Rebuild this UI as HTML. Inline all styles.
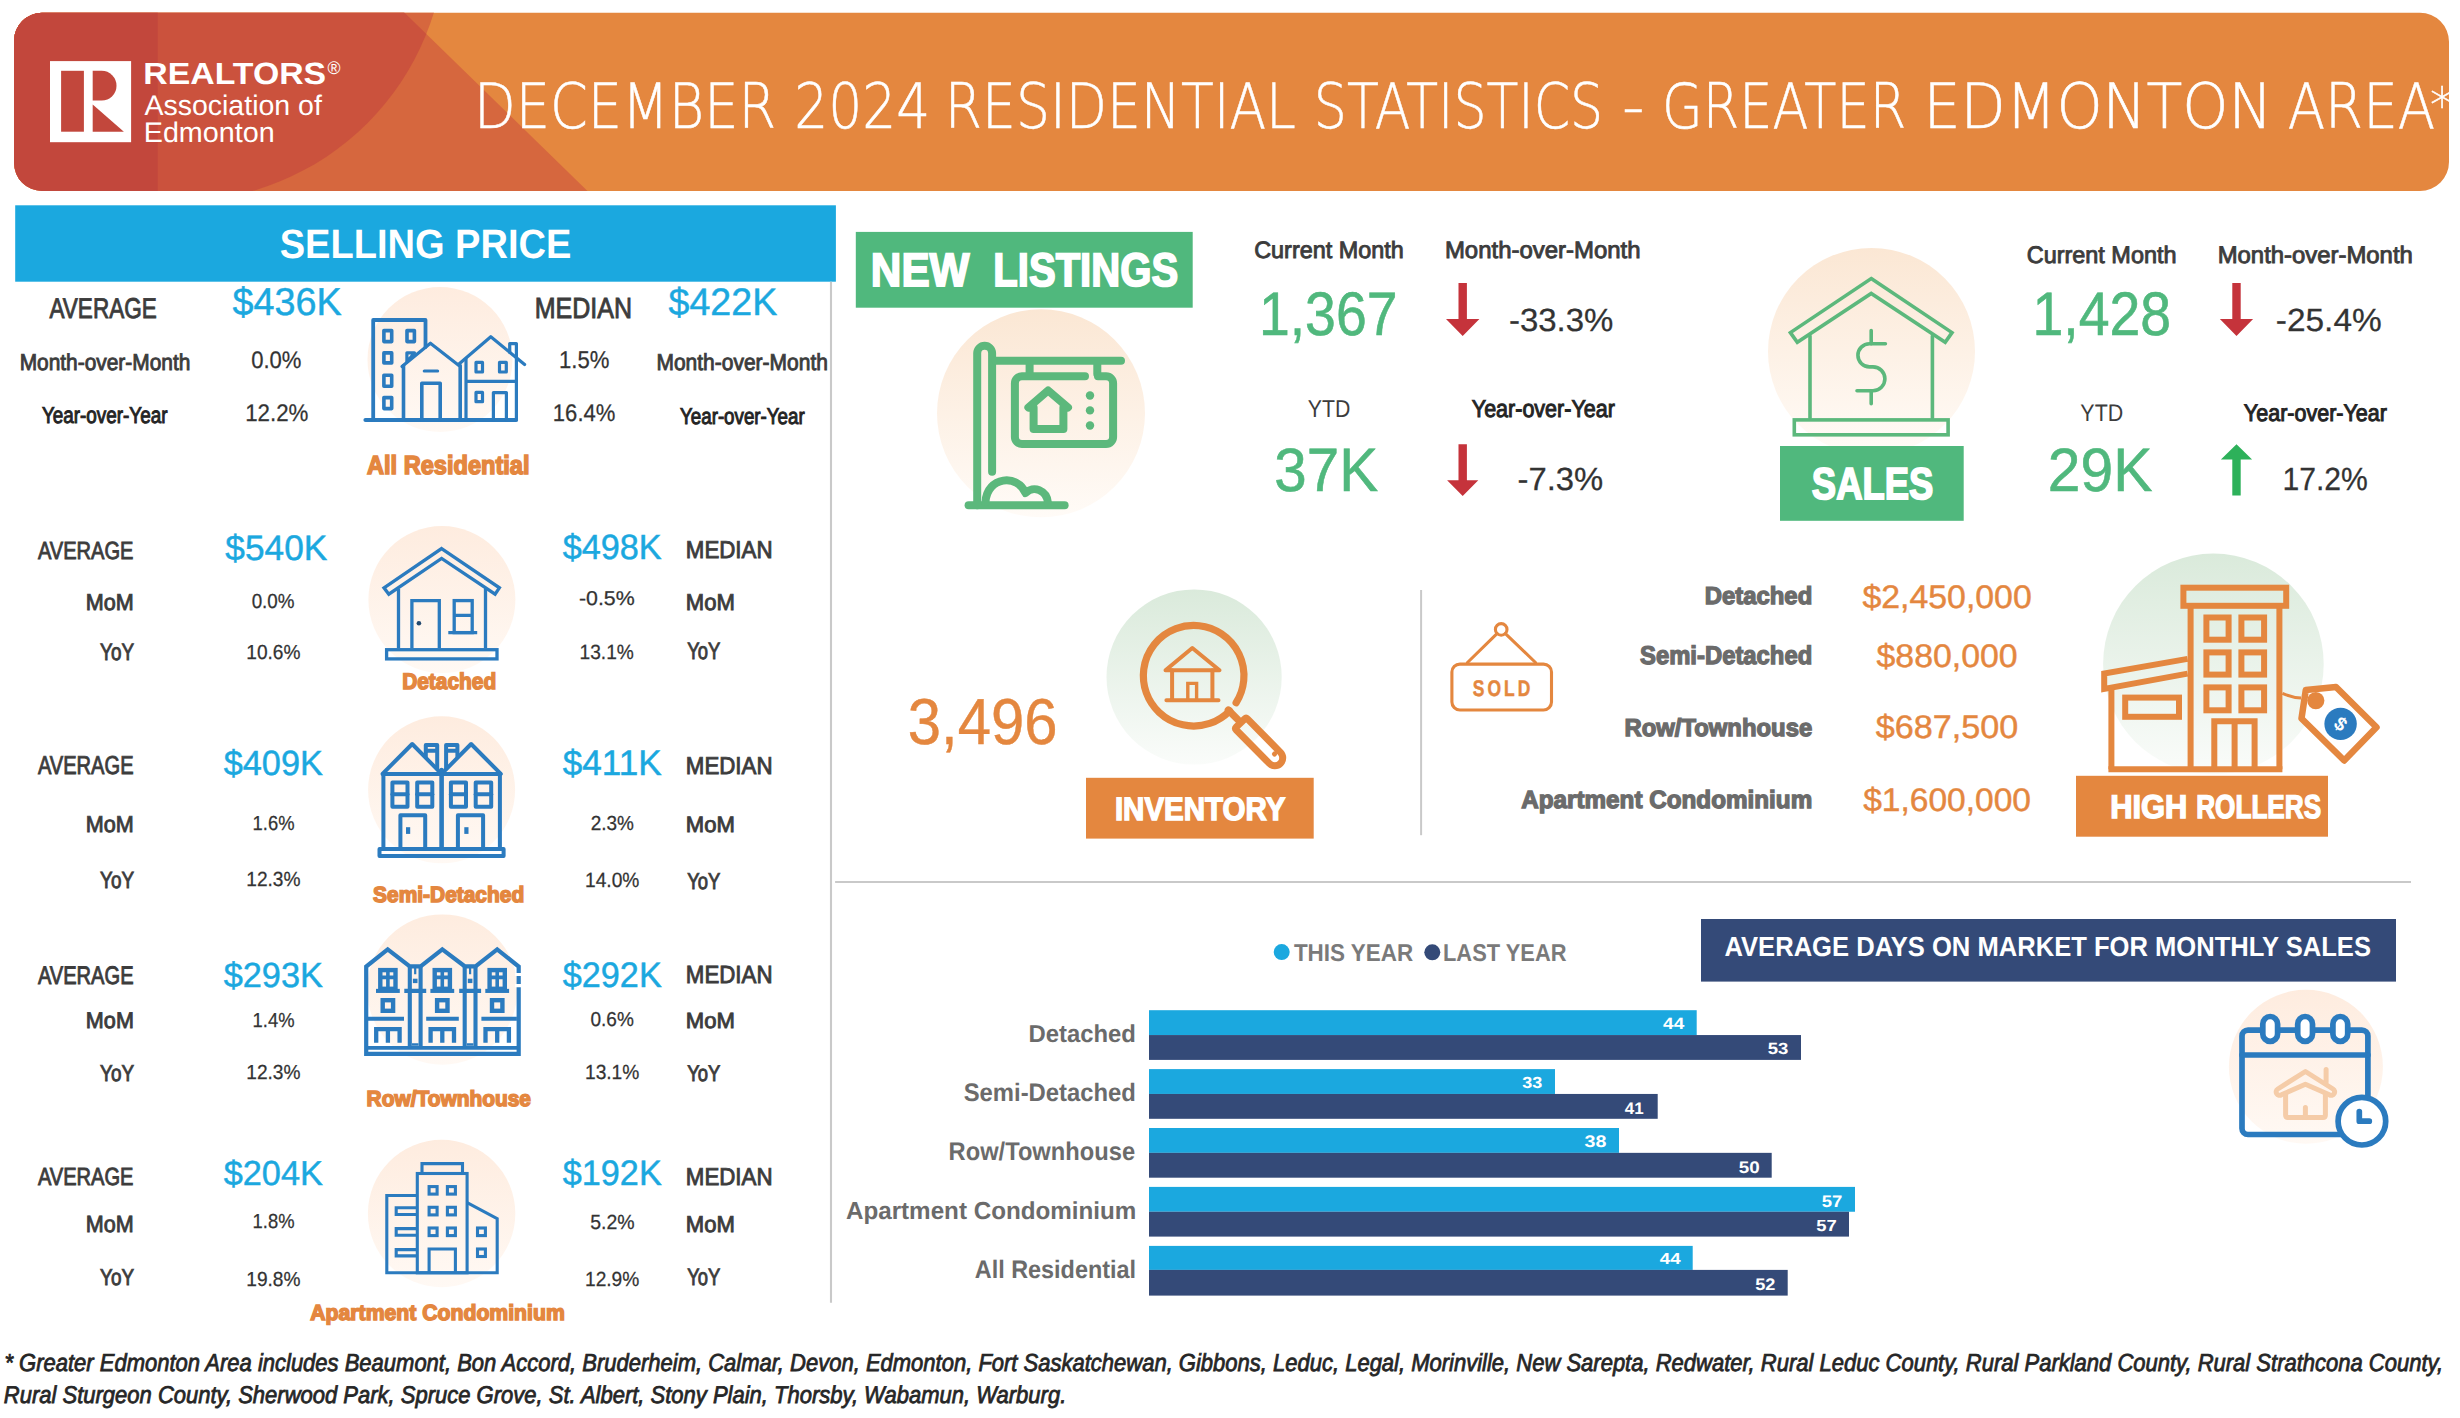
<!DOCTYPE html>
<html lang="en"><head><meta charset="utf-8"><title>December 2024 Residential Statistics - Greater Edmonton Area</title>
<style>
html,body{margin:0;padding:0;background:#fff}
body{width:2460px;height:1418px;position:relative;overflow:hidden;font-family:"Liberation Sans", sans-serif}
.t{position:absolute;left:0;top:0;white-space:pre;line-height:1;transform-origin:0 0;font-weight:400;text-rendering:geometricPrecision}
</style></head><body>
<svg width="2460" height="1418" viewBox="0 0 2460 1418" style="position:absolute;left:0;top:0">
<defs>
<clipPath id="tri2"><polygon points="0,0 391.4,0 404.8,13 587.7,191.2 596,199.3 0,200"/></clipPath>
<linearGradient id="gp" x1="0" y1="0" x2="0" y2="1"><stop offset="0" stop-color="#FBE7D4"/><stop offset="1" stop-color="#FFFBF7"/></linearGradient>
<linearGradient id="gp2" x1="0" y1="0" x2="0" y2="1"><stop offset="0" stop-color="#FEECDF"/><stop offset="1" stop-color="#FFF9F4"/></linearGradient>
<linearGradient id="gg" x1="0" y1="0" x2="0" y2="1"><stop offset="0" stop-color="#DAEADB"/><stop offset="1" stop-color="#FAFCFA"/></linearGradient>
</defs>
<clipPath id="hc"><path d="M42,12.8 H2420 A29,29 0 0 1 2449,41.8 V162 A29,29 0 0 1 2420,191 H42 A28,28 0 0 1 14,163 V40.8 A28,28 0 0 1 42,12.8 Z"/></clipPath>
<clipPath id="tri"><polygon points="0,0 404.8,13 587.7,191.2 0,191.2 0,0 404.8,0 404.8,13"/></clipPath>
<g clip-path="url(#hc)">
<rect x="0" y="0" width="2460" height="200" fill="#E4873F"/>
<polygon points="0,0 391.4,0 404.8,13 587.7,191.2 596,199.3 0,200" fill="#D6673E"/>
<circle cx="178.6" cy="-65.6" r="267" fill="#D6673E"/>
<g clip-path="url(#tri2)"><circle cx="178.6" cy="-65.6" r="267" fill="#CB523D"/></g>
<rect x="0" y="0" width="157.7" height="200" fill="#C2473C"/>
</g>
<rect x="50" y="61.1" width="81.1" height="81.1" fill="#fff"/>
<rect x="61.1" y="70.8" width="22.8" height="60.9" fill="#C2473C"/>
<path d="M92.7,70.8 H101.65 A14.85,14.85 0 0 1 101.65,100.5 H92.7 Z" fill="#C2473C"/>
<polygon points="92.7,104.4 123.9,131.7 92.7,131.7" fill="#C2473C"/>
<rect x="15.20" y="205.30" width="820.70" height="76.40" fill="#1BA8DF"/>
<line x1="831" y1="281.7" x2="831" y2="1302.8" stroke="#C9C9C9" stroke-width="2.1"/>
<line x1="835.1" y1="881.9" x2="2411" y2="881.9" stroke="#C9C9C9" stroke-width="2"/>
<line x1="1421.1" y1="590" x2="1421.1" y2="835.2" stroke="#C9C9C9" stroke-width="2"/>
<circle cx="440" cy="359.5" r="72.5" fill="url(#gp2)"/>
<circle cx="441.9" cy="599.6" r="73.5" fill="url(#gp2)"/>
<circle cx="441.6" cy="789.8" r="73.5" fill="url(#gp2)"/>
<circle cx="442.3" cy="989.6" r="75.2" fill="url(#gp2)"/>
<circle cx="441.6" cy="1213.5" r="73.7" fill="url(#gp2)"/>
<g fill="none" stroke="#2B7BBF" stroke-width="3.2" stroke-linejoin="round" stroke-linecap="round">
<path d="M365.5,420 H516" stroke-width="4.2"/>
<path d="M373.2,420 V320 H425.5 V347" stroke-width="3.8"/>
<rect x="383.90" y="330.60" width="7.80" height="11.00" stroke-width="3.6"/>
<rect x="383.90" y="352.90" width="7.80" height="10.00" stroke-width="3.6"/>
<rect x="383.90" y="375.30" width="7.80" height="11.00" stroke-width="3.6"/>
<rect x="383.90" y="397.60" width="7.80" height="11.00" stroke-width="3.6"/>
<rect x="407.00" y="330.60" width="7.40" height="11.00" stroke-width="3.6"/>
<path d="M406.9,362 V352.8 H414.5 Z"/>
<path d="M402,366.5 L430.4,343.2 L458.9,365.5"/>
<path d="M403.5,365.5 V420 M460.2,365.5 V420" stroke-width="3.6"/>
<path d="M424.3,371 H437.6"/>
<path d="M421.8,420 V383.2 H440.2 V420" stroke-width="3.6"/>
<path d="M459,364 L490.8,336.7 L524.6,364.5"/>
<path d="M509.7,352.5 V343.6 H516.4 V357"/>
<path d="M466,359 V420 M516.4,357.5 V420 M466,381.4 H516.4"/>
<rect x="476.00" y="362.40" width="6.50" height="9.60" />
<rect x="499.50" y="362.40" width="6.80" height="9.60" />
<rect x="476.00" y="392.40" width="6.50" height="9.30" />
<path d="M493.4,420 V392.6 H506.4 V420"/>
</g>
<g fill="none" stroke="#2B7BBF" stroke-width="3.3" stroke-linejoin="miter">
<path d="M441.6,548.6 L499.4,587.8 L495.1,594.2 L441.6,558.4 L388.8,594.2 L384,587.8 Z"/>
<path d="M398.5,589 V648.2 M485.5,589 V648.2"/>
<rect x="386.60" y="649.70" width="110.40" height="9.20" />
<path d="M411.9,648.2 V600.6 H439.3 V648.2"/>
<rect x="454.20" y="600.60" width="18.00" height="32.00" />
<path d="M454.2,615.3 H472.2 M448.3,632.6 H477.2"/>
<circle cx="418.9" cy="623.2" r="2.3" fill="#23496F" stroke="none"/>
</g>
<g fill="none" stroke="#2B7BBF" stroke-width="4" stroke-linejoin="round" stroke-linecap="round">
<path d="M382.5,773.9 L412.2,744 L441.6,773.9 L471.1,744 L500.8,773.9 Z"/>
<path d="M425.8,756.5 V745 H437.2 V768.5 M446.1,768.5 V745 H457.4 V756.5 M425.8,750.8 H437.2 M446.1,750.8 H457.4"/>
<path d="M383.4,773.9 V848.5 M499.9,773.9 V848.5"/>
<path d="M441.6,770 V848.5" stroke-width="4.6"/>
<rect x="379.50" y="849.10" width="124.10" height="6.80" />
<rect x="392.40" y="782.60" width="15.10" height="24.20" />
<path d="M392.40000000000003,794.2 H407.5"/>
<rect x="417.20" y="782.60" width="15.10" height="24.20" />
<path d="M417.20000000000005,794.2 H432.29999999999995"/>
<rect x="450.90" y="782.60" width="15.10" height="24.20" />
<path d="M450.90000000000003,794.2 H466.0"/>
<rect x="475.70" y="782.60" width="15.50" height="24.20" />
<path d="M475.70000000000005,794.2 H491.2"/>
<path d="M400.4,848.5 V815.3 H425.2 V848.5 M457.9,848.5 V815.3 H483.1 V848.5"/>
<rect x="406" y="827.2" width="4.2" height="6.7" fill="#2B7BBF" stroke="none"/>
<rect x="464.3" y="827.2" width="4.2" height="6.7" fill="#2B7BBF" stroke="none"/>
</g>
<g fill="none" stroke="#2B7BBF" stroke-width="4.2" stroke-linejoin="miter">
<path d="M366.2,1053.8 V966.6 L387.7,949.4 L409.8,966.3 H420.6 L442.3,949.4 L464.7,966.3 H475.5 L497.2,949.4 L518.7,966.6 V1053.8 Z"/>
<path d="M366.2,1047.9 H518.7" stroke-width="3.8"/>
<path d="M409.8,966 V1047.9 M420.6,966 V1047.9 M464.7,966 V1047.9 M475.5,966 V1047.9" stroke-width="4.1"/>
<path d="M404.3,990.9 H426.2 M459.2,990.9 H481.1" stroke-width="4.1"/>
<path d="M415.2,968 V974.2 M470.1,968 V974.2" stroke-width="2.2"/>
<rect x="412.9" y="978.7" width="4.6" height="4.4" fill="#2B7BBF" stroke="none"/><rect x="467.8" y="978.7" width="4.6" height="4.4" fill="#2B7BBF" stroke="none"/>
<path d="M412,1044.5 H418.5 M467,1044.5 H473.4" stroke-width="2.6"/>
<rect x="380.30" y="970.10" width="15.20" height="18.70" stroke-width="4.4"/>
<path d="M387.9,970 V989 M380.29999999999995,977.4 H395.5" stroke-width="3.6"/>
<path d="M376.0,990.9 H399.79999999999995" stroke-width="4.1"/>
<rect x="382.70" y="1000.20" width="10.40" height="10.60" stroke-width="4.4"/>
<path d="M376.2,1042.8 V1029.1 H399.59999999999997 V1042.8 M387.9,1029.1 V1042.8" stroke-width="4.3"/>
<rect x="434.70" y="970.10" width="15.20" height="18.70" stroke-width="4.4"/>
<path d="M442.3,970 V989 M434.7,977.4 H449.90000000000003" stroke-width="3.6"/>
<path d="M430.40000000000003,990.9 H454.2" stroke-width="4.1"/>
<rect x="437.10" y="1000.20" width="10.40" height="10.60" stroke-width="4.4"/>
<path d="M430.6,1042.8 V1029.1 H454.0 V1042.8 M442.3,1029.1 V1042.8" stroke-width="4.3"/>
<rect x="489.60" y="970.10" width="15.20" height="18.70" stroke-width="4.4"/>
<path d="M497.2,970 V989 M489.59999999999997,977.4 H504.8" stroke-width="3.6"/>
<path d="M485.3,990.9 H509.09999999999997" stroke-width="4.1"/>
<rect x="492.00" y="1000.20" width="10.40" height="10.60" stroke-width="4.4"/>
<path d="M485.5,1042.8 V1029.1 H508.9 V1042.8 M497.2,1029.1 V1042.8" stroke-width="4.3"/>
<path d="M367.8,1018.8 H404 M426.2,1018.8 H458.8 M481.4,1018.8 H516.9" stroke-width="4"/>
<path d="M515,974.5 H522 M515,985.7 H522" stroke="#fff" stroke-width="3.2"/>
</g>
<g fill="none" stroke="#2B7BBF" stroke-width="3.1" stroke-linejoin="miter" transform="translate(0.4,0.8)">
<path d="M421.6,1172.7 V1162.8 H462.1 V1172.7"/>
<rect x="416.90" y="1172.70" width="49.80" height="99.30" />
<path d="M416.9,1194.7 H386.4 V1272 H496.8 V1217.8 L466.7,1201.8"/>
<rect x="428.70" y="1185.80" width="8.00" height="7.50" />
<rect x="428.70" y="1206.50" width="8.00" height="7.60" />
<rect x="428.70" y="1227.20" width="8.00" height="7.60" />
<rect x="447.00" y="1185.80" width="8.00" height="7.50" />
<rect x="447.00" y="1206.50" width="8.00" height="7.60" />
<rect x="447.00" y="1227.20" width="8.00" height="7.60" />
<path d="M428.7,1272 V1248.2 H455 V1272"/>
<path d="M416.9,1206.8999999999999 H395.8 V1213.7 H416.9"/>
<path d="M416.9,1227.8 H395.8 V1234.4 H416.9"/>
<path d="M416.9,1248.8 H395.8 V1255.1000000000001 H416.9"/>
<rect x="477.10" y="1227.20" width="7.90" height="7.60" />
<rect x="477.10" y="1248.20" width="7.90" height="7.50" />
</g>
<rect x="855.80" y="231.90" width="336.90" height="75.80" fill="#50B87D"/>
<circle cx="1041" cy="413.3" r="104" fill="url(#gp)"/>
<g fill="none" stroke="#5CB87C" stroke-width="8" stroke-linejoin="round" stroke-linecap="round">
<path d="M977.2,505.2 V353.3 A7.45,7.45 0 0 1 992.1,353.3 V471.8"/>
<path d="M995.7,360.8 H1121 M1029.6,362 V374 M1097.3,362 V374"/>
<path d="M1085,376.3 H1021.9 A7,7 0 0 0 1014.9,383.3 V437 A7,7 0 0 0 1021.9,444 H1106.1 A7,7 0 0 0 1113.1,437 V383.3 A7,7 0 0 0 1106.1,376.3 H1098"/>
<path d="M1028.4,407.5 L1048.1,390.5 L1068,407.5 M1033.6,407.5 V428.9 H1063.4 V407.5"/>
<path d="M968.6,505.2 H1064.6"/>
<path d="M985.5,502 C987,476 1018,474 1025.5,493 C1033,485 1047,490 1048,503"/>
<circle cx="1090" cy="395.5" r="4.2" fill="#5CB87C" stroke="none"/>
<circle cx="1090" cy="410.4" r="4.2" fill="#5CB87C" stroke="none"/>
<circle cx="1090" cy="425.5" r="4.2" fill="#5CB87C" stroke="none"/>
</g>
<polygon points="1458.5,283 1466.9,283 1466.9,319 1479.4,319 1462.7,335.9 1446.0,319 1458.5,319" fill="#C5333B"/>
<polygon points="1458.5,444.2 1466.9,444.2 1466.9,480.2 1478.3,480.2 1462.7,496.1 1447.1000000000001,480.2 1458.5,480.2" fill="#C5333B"/>
<circle cx="1871.5" cy="351.4" r="103.5" fill="url(#gp)"/>
<g fill="none" stroke="#5CB87C" stroke-width="3.6" stroke-linejoin="miter" stroke-linecap="round">
<path d="M1871.2,278.6 L1952,332.6 L1945.2,342.2 L1871.2,293.4 L1797.3,342.2 L1790.4,332.6 Z"/>
<path d="M1810,336 V418.1 M1932.4,336 V418.1"/>
<rect x="1794.30" y="419.90" width="153.80" height="14.90" />
<path d="M1871.2,330.6 V343.7 M1871.2,390.7 V403.8"/>
<path d="M1885.4,343.7 H1869.5 A11.6,11.6 0 0 0 1869.5,366.9 H1873 A11.9,11.9 0 0 1 1873,390.7 H1857"/>
</g>
<rect x="1780.00" y="446.00" width="183.70" height="74.80" fill="#50B87D"/>
<polygon points="2232.3,283 2240.7,283 2240.7,319 2253.1,319 2236.5,335.9 2219.9,319 2232.3,319" fill="#C5333B"/>
<polygon points="2236.5,444.2 2252.1,459.5 2240.7,459.5 2240.7,495.6 2232.3,495.6 2232.3,459.5 2220.9,459.5" fill="#2DB15A"/>
<circle cx="1194.1" cy="677" r="87.6" fill="url(#gg)"/>
<g fill="none" stroke="#E4873F" stroke-width="7.2" stroke-linejoin="round" stroke-linecap="round">
<path d="M1229.6,710.9 A50.3,50.3 0 1 1 1236.1,702.7"/>
<path d="M1228.3,710.1 L1238,719.8"/>
<g transform="translate(1238,720.5) rotate(45.4)"><path d="M5.5,-7.85 H52.5 A7.85,7.85 0 0 1 52.5,7.85 H5.5 Q3.5,7.85 3.5,5.85 V-5.85 Q3.5,-7.85 5.5,-7.85 Z" stroke-width="7"/><circle cx="49.5" cy="-2.5" r="2.6" fill="#E4873F" stroke="none"/></g>
</g>
<g fill="none" stroke="#E4873F" stroke-width="4" stroke-linejoin="round" stroke-linecap="round">
<path d="M1165.5,670.2 L1192.3,648 L1219.5,670.2 Z"/>
<path d="M1172.1,670.2 V700.2 M1212.4,670.2 V700.2 M1166.4,700.2 H1218.5"/>
<path d="M1187.8,700.2 V683.4 H1196.6 V700.2" stroke-linejoin="miter" stroke-width="3.4"/>
</g>
<rect x="1086.00" y="777.80" width="227.70" height="60.80" fill="#E4873F"/>
<g fill="none" stroke="#E4873F" stroke-width="3.1" stroke-linejoin="round" stroke-linecap="round">
<circle cx="1501.2" cy="629.4" r="5.8"/>
<path d="M1497,633.6 L1467.5,662.5 M1505.4,633.6 L1535.5,662.5"/>
<rect x="1451.9" y="664.1" width="99.6" height="45.9" rx="8"/>
</g>
<circle cx="2213.4" cy="663.9" r="110.3" fill="url(#gg)"/>
<g fill="none" stroke="#E4873F" stroke-width="6" stroke-linejoin="miter">
<rect x="2183.40" y="587.70" width="102.80" height="18.10" />
<path d="M2190.6,605.8 V769.2 M2279.4,605.8 V769.2"/>
<rect x="2206.40" y="617.50" width="22.20" height="22.20" />
<rect x="2206.40" y="652.40" width="22.20" height="22.20" />
<rect x="2206.40" y="687.40" width="22.20" height="22.90" />
<rect x="2241.40" y="617.50" width="22.70" height="22.20" />
<rect x="2241.40" y="652.40" width="22.70" height="22.20" />
<rect x="2241.40" y="687.40" width="22.70" height="22.90" />
<path d="M2214.3,769.2 V721.2 H2254.6 V769.2 M2234.6,721.2 V769.2"/>
<path d="M2187.6,658.9 L2104.2,673.6 V688.9 L2187.6,673.6"/>
<path d="M2111.4,687.5 V769.2"/>
<rect x="2125.20" y="697.60" width="53.80" height="19.20" />
<path d="M2108.4,769.2 H2282.4"/>
</g>
<path d="M2282.4,693.4 Q2292,697.5 2301,698" fill="none" stroke="#E4873F" stroke-width="3"/>
<path d="M2301.5,718.5 L2305.8,690 L2336,687 L2376.5,727.3 L2344.2,760.5 Z" fill="#fff" stroke="#E4873F" stroke-width="6.5" stroke-linejoin="round"/>
<circle cx="2315.8" cy="700.6" r="8.6" fill="#E4873F"/>
<circle cx="2340.6" cy="723.9" r="16.2" fill="#2B7BBF"/>
<text x="2340.6" y="723.9" transform="rotate(38 2340.6 723.9)" text-anchor="middle" dy="6.5" font-family="Liberation Sans, sans-serif" font-weight="700" font-size="19" fill="#fff">$</text>
<rect x="2076.00" y="775.80" width="252.00" height="60.90" fill="#E4873F"/>
<rect x="1149.00" y="1010.20" width="547.70" height="24.85" fill="#1BA8DF"/>
<rect x="1149.00" y="1035.05" width="652.00" height="24.85" fill="#344A78"/>
<rect x="1149.00" y="1069.10" width="406.00" height="24.85" fill="#1BA8DF"/>
<rect x="1149.00" y="1093.95" width="508.70" height="24.85" fill="#344A78"/>
<rect x="1149.00" y="1128.00" width="470.00" height="24.85" fill="#1BA8DF"/>
<rect x="1149.00" y="1152.85" width="622.70" height="24.85" fill="#344A78"/>
<rect x="1149.00" y="1186.90" width="706.00" height="24.85" fill="#1BA8DF"/>
<rect x="1149.00" y="1211.75" width="700.00" height="24.85" fill="#344A78"/>
<rect x="1149.00" y="1245.90" width="543.70" height="24.00" fill="#1BA8DF"/>
<rect x="1149.00" y="1269.90" width="638.70" height="25.70" fill="#344A78"/>
<circle cx="1281.7" cy="952.1" r="8" fill="#1BA8DF"/>
<circle cx="1432.3" cy="952.3" r="8" fill="#344A78"/>
<rect x="1701.00" y="919.00" width="695.00" height="62.60" fill="#344A78"/>
<circle cx="2305.9" cy="1066.8" r="77" fill="url(#gp2)"/>
<g fill="none" stroke="#F5CCA8" stroke-width="5" stroke-linejoin="round" stroke-linecap="round">
<path d="M2305.4,1071.5 L2333,1089 A3.4,3.4 0 0 1 2329.4,1094.8 L2305.4,1084.3 L2281.4,1094.8 A3.4,3.4 0 0 1 2277.8,1089 Z"/>
<path d="M2285.6,1094 V1115 Q2285.6,1117.6 2288,1117.6 H2323 Q2325.4,1117.6 2325.4,1115 V1094"/>
<path d="M2326.1,1069.5 V1082 M2305.4,1107.5 V1117"/>
</g>
<g fill="none" stroke="#2B7BBF" stroke-width="5.7" stroke-linejoin="round" stroke-linecap="round">
<rect x="2242" y="1030.1" width="125.9" height="104.4" rx="6"/>
<path d="M2242,1055 H2367.9"/>
<rect x="2262.7999999999997" y="1016.5" width="14.8" height="24.8" rx="7.4" fill="#fff"/>
<rect x="2297.7" y="1016.5" width="14.8" height="24.8" rx="7.4" fill="#fff"/>
<rect x="2332.9" y="1016.5" width="14.8" height="24.8" rx="7.4" fill="#fff"/>
<circle cx="2361.9" cy="1121.2" r="23.8" fill="#fff"/>
<path d="M2359.3,1111.6 V1121.2 H2369.3"/>
</g>
<g clip-path="url(#hc)" font-family='DejaVu Sans Light, DejaVu Sans, Liberation Sans, sans-serif' font-weight="200" fill="#fff" stroke="#fff" stroke-width="0.55">
<text y="128" font-size="62.33" xml:space="preserve"><tspan x="474.00" textLength="302.23" lengthAdjust="spacingAndGlyphs">DECEMBER</tspan> <tspan x="794.29" textLength="136.08" lengthAdjust="spacingAndGlyphs">2024</tspan> <tspan x="944.87" textLength="351.08" lengthAdjust="spacingAndGlyphs">RESIDENTIAL</tspan> <tspan x="1313.83" textLength="289.36" lengthAdjust="spacingAndGlyphs">STATISTICS</tspan> <tspan x="1622.00" textLength="22.55" lengthAdjust="spacingAndGlyphs">-</tspan> <tspan x="1662.10" textLength="244.06" lengthAdjust="spacingAndGlyphs">GREATER</tspan> <tspan x="1923.46" textLength="349.04" lengthAdjust="spacingAndGlyphs">EDMONTON</tspan> <tspan x="2287.71" textLength="147.41" lengthAdjust="spacingAndGlyphs">AREA</tspan> <tspan x="2430" dy="-6.5" font-size="48.62">*</tspan></text>
</g>
</svg>
<div class="t" style="font-size:30.71px;color:#fff;transform:translate(143.37px,58.90px) scaleX(1.1006);font-weight:700;">REALTORS</div>
<div class="t" style="font-size:18.26px;color:#fff;transform:translate(327.62px,59.10px) scaleX(0.9660);">®</div>
<div class="t" style="font-size:28.26px;color:#fff;transform:translate(144.40px,90.70px) scaleX(1.0091);">Association of</div>
<div class="t" style="font-size:28.26px;color:#fff;transform:translate(143.70px,118.40px) scaleX(1.0178);">Edmonton</div>
<div class="t" style="font-size:41.00px;color:#fff;transform:translate(279.64px,223.60px) scaleX(0.9281);font-weight:700;">SELLING PRICE</div>
<div class="t" style="font-size:28.55px;color:#3C3C3C;transform:translate(49.50px,294.70px) scaleX(0.7889);-webkit-text-stroke:0.9px #3C3C3C;">AVERAGE</div>
<div class="t" style="font-size:38.84px;color:#1BA8DF;transform:translate(232.62px,284.00px) scaleX(0.9718);-webkit-text-stroke:0.45px #1BA8DF;">$436K</div>
<div class="t" style="font-size:22.90px;color:#3C3C3C;transform:translate(19.63px,350.50px) scaleX(0.9126);-webkit-text-stroke:0.9px #3C3C3C;">Month-over-Month</div>
<div class="t" style="font-size:23.91px;color:#333333;transform:translate(251.14px,348.50px) scaleX(0.9231);-webkit-text-stroke:0.25px #333333;">0.0%</div>
<div class="t" style="font-size:23.04px;color:#242424;transform:translate(41.92px,404.30px) scaleX(0.8196);-webkit-text-stroke:1.0px #242424;">Year-over-Year</div>
<div class="t" style="font-size:24.06px;color:#333333;transform:translate(245.14px,402.30px) scaleX(0.9281);-webkit-text-stroke:0.25px #333333;">12.2%</div>
<div class="t" style="font-size:28.99px;color:#3C3C3C;transform:translate(534.70px,294.80px) scaleX(0.8631);-webkit-text-stroke:0.9px #3C3C3C;">MEDIAN</div>
<div class="t" style="font-size:38.26px;color:#1BA8DF;transform:translate(668.52px,283.60px) scaleX(0.9829);-webkit-text-stroke:0.45px #1BA8DF;">$422K</div>
<div class="t" style="font-size:24.35px;color:#333333;transform:translate(558.95px,348.60px) scaleX(0.9080);-webkit-text-stroke:0.25px #333333;">1.5%</div>
<div class="t" style="font-size:23.04px;color:#3C3C3C;transform:translate(656.42px,350.60px) scaleX(0.9114);-webkit-text-stroke:0.9px #3C3C3C;">Month-over-Month</div>
<div class="t" style="font-size:24.06px;color:#333333;transform:translate(552.85px,402.40px) scaleX(0.9174);-webkit-text-stroke:0.25px #333333;">16.4%</div>
<div class="t" style="font-size:22.75px;color:#242424;transform:translate(680.03px,404.50px) scaleX(0.8234);-webkit-text-stroke:1.0px #242424;">Year-over-Year</div>
<div class="t" style="font-size:26.14px;color:#E4873F;transform:translate(366.93px,452.30px) scaleX(0.9031);font-weight:700;-webkit-text-stroke:1.6px #E4873F;">All Residential</div>
<div class="t" style="font-size:24.78px;color:#3C3C3C;transform:translate(37.90px,539.50px) scaleX(0.8107);-webkit-text-stroke:0.9px #3C3C3C;">AVERAGE</div>
<div class="t" style="font-size:35.36px;color:#1BA8DF;transform:translate(225.35px,530.90px) scaleX(0.9966);-webkit-text-stroke:0.45px #1BA8DF;">$540K</div>
<div class="t" style="font-size:22.90px;color:#3C3C3C;transform:translate(85.87px,590.50px) scaleX(0.9434);-webkit-text-stroke:0.9px #3C3C3C;">MoM</div>
<div class="t" style="font-size:20.29px;color:#333333;transform:translate(251.64px,591.50px) scaleX(0.9279);-webkit-text-stroke:0.25px #333333;">0.0%</div>
<div class="t" style="font-size:23.77px;color:#3C3C3C;transform:translate(100.02px,640.80px) scaleX(0.7954);-webkit-text-stroke:0.9px #3C3C3C;">YoY</div>
<div class="t" style="font-size:20.29px;color:#333333;transform:translate(246.26px,642.70px) scaleX(0.9438);-webkit-text-stroke:0.25px #333333;">10.6%</div>
<div class="t" style="font-size:35.07px;color:#1BA8DF;transform:translate(562.66px,529.60px) scaleX(0.9771);-webkit-text-stroke:0.45px #1BA8DF;">$498K</div>
<div class="t" style="font-size:24.49px;color:#3C3C3C;transform:translate(685.82px,539.40px) scaleX(0.9102);-webkit-text-stroke:0.9px #3C3C3C;">MEDIAN</div>
<div class="t" style="font-size:20.00px;color:#333333;transform:translate(578.95px,588.70px) scaleX(1.0676);-webkit-text-stroke:0.25px #333333;">-0.5%</div>
<div class="t" style="font-size:23.04px;color:#3C3C3C;transform:translate(685.83px,590.60px) scaleX(0.9586);-webkit-text-stroke:0.9px #3C3C3C;">MoM</div>
<div class="t" style="font-size:20.58px;color:#333333;transform:translate(579.56px,642.80px) scaleX(0.9305);-webkit-text-stroke:0.25px #333333;">13.1%</div>
<div class="t" style="font-size:23.62px;color:#3C3C3C;transform:translate(687.23px,641.40px) scaleX(0.7812);-webkit-text-stroke:0.9px #3C3C3C;">YoY</div>
<div class="t" style="font-size:22.71px;color:#E4873F;transform:translate(402.15px,669.50px) scaleX(0.9197);font-weight:700;-webkit-text-stroke:1.5px #E4873F;">Detached</div>
<div class="t" style="font-size:25.94px;color:#3C3C3C;transform:translate(37.90px,753.60px) scaleX(0.7745);-webkit-text-stroke:0.9px #3C3C3C;">AVERAGE</div>
<div class="t" style="font-size:35.07px;color:#1BA8DF;transform:translate(223.66px,745.80px) scaleX(0.9790);-webkit-text-stroke:0.45px #1BA8DF;">$409K</div>
<div class="t" style="font-size:23.04px;color:#3C3C3C;transform:translate(85.87px,812.50px) scaleX(0.9376);-webkit-text-stroke:0.9px #3C3C3C;">MoM</div>
<div class="t" style="font-size:20.29px;color:#333333;transform:translate(252.61px,813.50px) scaleX(0.9065);-webkit-text-stroke:0.25px #333333;">1.6%</div>
<div class="t" style="font-size:23.48px;color:#3C3C3C;transform:translate(100.02px,869.20px) scaleX(0.8052);-webkit-text-stroke:0.9px #3C3C3C;">YoY</div>
<div class="t" style="font-size:20.43px;color:#333333;transform:translate(246.26px,870.30px) scaleX(0.9373);-webkit-text-stroke:0.25px #333333;">12.3%</div>
<div class="t" style="font-size:35.51px;color:#1BA8DF;transform:translate(562.65px,746.30px) scaleX(0.9905);-webkit-text-stroke:0.45px #1BA8DF;">$411K</div>
<div class="t" style="font-size:24.49px;color:#3C3C3C;transform:translate(685.82px,754.50px) scaleX(0.9102);-webkit-text-stroke:0.9px #3C3C3C;">MEDIAN</div>
<div class="t" style="font-size:20.29px;color:#333333;transform:translate(590.65px,813.80px) scaleX(0.9341);-webkit-text-stroke:0.25px #333333;">2.3%</div>
<div class="t" style="font-size:22.17px;color:#3C3C3C;transform:translate(685.83px,813.80px) scaleX(0.9962);-webkit-text-stroke:0.9px #3C3C3C;">MoM</div>
<div class="t" style="font-size:20.58px;color:#333333;transform:translate(584.96px,870.70px) scaleX(0.9323);-webkit-text-stroke:0.25px #333333;">14.0%</div>
<div class="t" style="font-size:23.04px;color:#3C3C3C;transform:translate(687.23px,869.70px) scaleX(0.8009);-webkit-text-stroke:0.9px #3C3C3C;">YoY</div>
<div class="t" style="font-size:22.00px;color:#E4873F;transform:translate(373.08px,883.70px) scaleX(0.9506);font-weight:700;-webkit-text-stroke:1.5px #E4873F;">Semi-Detached</div>
<div class="t" style="font-size:25.36px;color:#3C3C3C;transform:translate(37.90px,963.50px) scaleX(0.7922);-webkit-text-stroke:0.9px #3C3C3C;">AVERAGE</div>
<div class="t" style="font-size:34.93px;color:#1BA8DF;transform:translate(223.66px,959.30px) scaleX(0.9830);-webkit-text-stroke:0.45px #1BA8DF;">$293K</div>
<div class="t" style="font-size:22.75px;color:#3C3C3C;transform:translate(85.87px,1008.90px) scaleX(0.9496);-webkit-text-stroke:0.9px #3C3C3C;">MoM</div>
<div class="t" style="font-size:20.29px;color:#333333;transform:translate(252.61px,1010.60px) scaleX(0.9065);-webkit-text-stroke:0.25px #333333;">1.4%</div>
<div class="t" style="font-size:23.04px;color:#3C3C3C;transform:translate(100.02px,1062.00px) scaleX(0.8206);-webkit-text-stroke:0.9px #3C3C3C;">YoY</div>
<div class="t" style="font-size:20.29px;color:#333333;transform:translate(246.26px,1063.00px) scaleX(0.9438);-webkit-text-stroke:0.25px #333333;">12.3%</div>
<div class="t" style="font-size:35.36px;color:#1BA8DF;transform:translate(562.66px,958.10px) scaleX(0.9690);-webkit-text-stroke:0.45px #1BA8DF;">$292K</div>
<div class="t" style="font-size:24.93px;color:#3C3C3C;transform:translate(685.82px,963.40px) scaleX(0.8941);-webkit-text-stroke:0.9px #3C3C3C;">MEDIAN</div>
<div class="t" style="font-size:20.14px;color:#333333;transform:translate(590.43px,1010.20px) scaleX(0.9460);-webkit-text-stroke:0.25px #333333;">0.6%</div>
<div class="t" style="font-size:22.03px;color:#3C3C3C;transform:translate(685.83px,1009.70px) scaleX(1.0026);-webkit-text-stroke:0.9px #3C3C3C;">MoM</div>
<div class="t" style="font-size:20.43px;color:#333333;transform:translate(584.96px,1062.60px) scaleX(0.9391);-webkit-text-stroke:0.25px #333333;">13.1%</div>
<div class="t" style="font-size:22.75px;color:#3C3C3C;transform:translate(687.23px,1061.60px) scaleX(0.8111);-webkit-text-stroke:0.9px #3C3C3C;">YoY</div>
<div class="t" style="font-size:21.86px;color:#E4873F;transform:translate(366.55px,1087.80px) scaleX(0.9556);font-weight:700;-webkit-text-stroke:1.5px #E4873F;">Row/Townhouse</div>
<div class="t" style="font-size:24.78px;color:#3C3C3C;transform:translate(37.90px,1165.50px) scaleX(0.8107);-webkit-text-stroke:0.9px #3C3C3C;">AVERAGE</div>
<div class="t" style="font-size:34.64px;color:#1BA8DF;transform:translate(223.66px,1157.30px) scaleX(0.9912);-webkit-text-stroke:0.45px #1BA8DF;">$204K</div>
<div class="t" style="font-size:23.48px;color:#3C3C3C;transform:translate(85.87px,1213.40px) scaleX(0.9201);-webkit-text-stroke:0.9px #3C3C3C;">MoM</div>
<div class="t" style="font-size:20.29px;color:#333333;transform:translate(252.61px,1212.40px) scaleX(0.9065);-webkit-text-stroke:0.25px #333333;">1.8%</div>
<div class="t" style="font-size:23.04px;color:#3C3C3C;transform:translate(100.02px,1266.00px) scaleX(0.8206);-webkit-text-stroke:0.9px #3C3C3C;">YoY</div>
<div class="t" style="font-size:20.29px;color:#333333;transform:translate(246.26px,1269.60px) scaleX(0.9438);-webkit-text-stroke:0.25px #333333;">19.8%</div>
<div class="t" style="font-size:35.36px;color:#1BA8DF;transform:translate(562.66px,1156.30px) scaleX(0.9690);-webkit-text-stroke:0.45px #1BA8DF;">$192K</div>
<div class="t" style="font-size:24.49px;color:#3C3C3C;transform:translate(685.82px,1165.50px) scaleX(0.9102);-webkit-text-stroke:0.9px #3C3C3C;">MEDIAN</div>
<div class="t" style="font-size:20.43px;color:#333333;transform:translate(590.22px,1212.60px) scaleX(0.9545);-webkit-text-stroke:0.25px #333333;">5.2%</div>
<div class="t" style="font-size:22.90px;color:#3C3C3C;transform:translate(685.83px,1213.20px) scaleX(0.9645);-webkit-text-stroke:0.9px #3C3C3C;">MoM</div>
<div class="t" style="font-size:20.43px;color:#333333;transform:translate(584.96px,1269.50px) scaleX(0.9391);-webkit-text-stroke:0.25px #333333;">12.9%</div>
<div class="t" style="font-size:23.62px;color:#3C3C3C;transform:translate(687.23px,1266.50px) scaleX(0.7812);-webkit-text-stroke:0.9px #3C3C3C;">YoY</div>
<div class="t" style="font-size:21.71px;color:#E4873F;transform:translate(310.28px,1302.00px) scaleX(0.9772);font-weight:700;-webkit-text-stroke:1.5px #E4873F;">Apartment Condominium</div>
<div class="t" style="font-size:47.14px;color:#fff;transform:translate(870.86px,246.30px) scaleX(0.8972);font-weight:700;-webkit-text-stroke:1.8px #fff;">NEW</div>
<div class="t" style="font-size:47.14px;color:#fff;transform:translate(993.29px,246.30px) scaleX(0.8505);font-weight:700;-webkit-text-stroke:1.8px #fff;">LISTINGS</div>
<div class="t" style="font-size:23.62px;color:#3C3C3C;transform:translate(1254.23px,240.10px) scaleX(0.9902);-webkit-text-stroke:0.9px #3C3C3C;">Current Month</div>
<div class="t" style="font-size:23.62px;color:#3C3C3C;transform:translate(1444.88px,240.10px) scaleX(1.0145);-webkit-text-stroke:0.9px #3C3C3C;">Month-over-Month</div>
<div class="t" style="font-size:61.45px;color:#50B87D;transform:translate(1258.92px,284.40px) scaleX(0.9015);-webkit-text-stroke:0.6px #50B87D;">1,367</div>
<div class="t" style="font-size:32.17px;color:#333333;transform:translate(1508.98px,304.10px) scaleX(1.0250);-webkit-text-stroke:0.25px #333333;">-33.3%</div>
<div class="t" style="font-size:24.49px;color:#3C3C3C;transform:translate(1307.87px,397.80px) scaleX(0.8681);">YTD</div>
<div class="t" style="font-size:24.49px;color:#242424;transform:translate(1471.77px,397.80px) scaleX(0.8784);-webkit-text-stroke:1.0px #242424;">Year-over-Year</div>
<div class="t" style="font-size:61.30px;color:#50B87D;transform:translate(1274.35px,439.80px) scaleX(0.9513);-webkit-text-stroke:0.6px #50B87D;">37K</div>
<div class="t" style="font-size:32.17px;color:#333333;transform:translate(1517.49px,462.70px) scaleX(1.0206);-webkit-text-stroke:0.25px #333333;">-7.3%</div>
<div class="t" style="font-size:23.91px;color:#3C3C3C;transform:translate(2026.73px,244.00px) scaleX(0.9801);-webkit-text-stroke:0.9px #3C3C3C;">Current Month</div>
<div class="t" style="font-size:23.91px;color:#3C3C3C;transform:translate(2217.69px,244.00px) scaleX(0.9990);-webkit-text-stroke:0.9px #3C3C3C;">Month-over-Month</div>
<div class="t" style="font-size:61.45px;color:#50B87D;transform:translate(2032.52px,284.40px) scaleX(0.9019);-webkit-text-stroke:0.6px #50B87D;">1,428</div>
<div class="t" style="font-size:32.17px;color:#333333;transform:translate(2275.76px,304.10px) scaleX(1.0401);-webkit-text-stroke:0.25px #333333;">-25.4%</div>
<div class="t" style="font-size:23.91px;color:#3C3C3C;transform:translate(2080.37px,401.60px) scaleX(0.8957);">YTD</div>
<div class="t" style="font-size:23.91px;color:#242424;transform:translate(2243.87px,401.60px) scaleX(0.8997);-webkit-text-stroke:1.0px #242424;">Year-over-Year</div>
<div class="t" style="font-size:61.30px;color:#50B87D;transform:translate(2047.86px,439.80px) scaleX(0.9576);-webkit-text-stroke:0.6px #50B87D;">29K</div>
<div class="t" style="font-size:32.17px;color:#333333;transform:translate(2282.39px,462.70px) scaleX(0.9372);-webkit-text-stroke:0.25px #333333;">17.2%</div>
<div class="t" style="font-size:44.71px;color:#fff;transform:translate(1811.87px,463.10px) scaleX(0.8149);font-weight:700;-webkit-text-stroke:1.8px #fff;">SALES</div>
<div class="t" style="font-size:64.93px;color:#E4873F;transform:translate(907.81px,690.10px) scaleX(0.9211);-webkit-text-stroke:0.45px #E4873F;">3,496</div>
<div class="t" style="font-size:32.43px;color:#fff;transform:translate(1114.93px,792.70px) scaleX(0.9097);font-weight:700;-webkit-text-stroke:1.4px #fff;">INVENTORY</div>
<div class="t" style="font-size:22.71px;color:#E4873F;transform:translate(1472.65px,676.50px) scaleX(0.7672);font-weight:700;letter-spacing:0.18em;-webkit-text-stroke:0.5px #E4873F;">SOLD</div>
<div class="t" style="font-size:24.57px;color:#6B6B6B;transform:translate(1704.67px,584.60px) scaleX(0.9728);font-weight:700;-webkit-text-stroke:1.3px #6B6B6B;">Detached</div>
<div class="t" style="font-size:25.71px;color:#6B6B6B;transform:translate(1640.02px,643.80px) scaleX(0.9272);font-weight:700;-webkit-text-stroke:1.3px #6B6B6B;">Semi-Detached</div>
<div class="t" style="font-size:24.57px;color:#6B6B6B;transform:translate(1624.47px,717.00px) scaleX(0.9710);font-weight:700;-webkit-text-stroke:1.3px #6B6B6B;">Row/Townhouse</div>
<div class="t" style="font-size:24.86px;color:#6B6B6B;transform:translate(1521.21px,787.90px) scaleX(0.9756);font-weight:700;-webkit-text-stroke:1.3px #6B6B6B;">Apartment Condominium</div>
<div class="t" style="font-size:32.61px;color:#E4873F;transform:translate(1862.46px,580.90px) scaleX(1.0371);-webkit-text-stroke:0.45px #E4873F;">$2,450,000</div>
<div class="t" style="font-size:32.61px;color:#E4873F;transform:translate(1876.56px,639.80px) scaleX(1.0371);-webkit-text-stroke:0.45px #E4873F;">$880,000</div>
<div class="t" style="font-size:32.75px;color:#E4873F;transform:translate(1875.76px,711.30px) scaleX(1.0423);-webkit-text-stroke:0.45px #E4873F;">$687,500</div>
<div class="t" style="font-size:32.75px;color:#E4873F;transform:translate(1863.16px,783.50px) scaleX(1.0234);-webkit-text-stroke:0.45px #E4873F;">$1,600,000</div>
<div class="t" style="font-size:32.86px;color:#fff;transform:translate(2110.15px,791.00px) scaleX(0.9394);font-weight:700;-webkit-text-stroke:1.4px #fff;">HIGH</div>
<div class="t" style="font-size:32.86px;color:#fff;transform:translate(2196.23px,791.00px) scaleX(0.7951);font-weight:700;-webkit-text-stroke:1.4px #fff;">ROLLERS</div>
<div class="t" style="font-size:24.29px;color:#7A7A7A;transform:translate(1293.88px,942.00px) scaleX(0.9239);font-weight:700;">THIS YEAR</div>
<div class="t" style="font-size:24.29px;color:#7A7A7A;transform:translate(1442.99px,942.00px) scaleX(0.9007);font-weight:700;">LAST YEAR</div>
<div class="t" style="font-size:27.57px;color:#fff;transform:translate(1724.49px,933.00px) scaleX(0.9278);font-weight:700;">AVERAGE DAYS ON MARKET FOR MONTHLY SALES</div>
<div class="t" style="font-size:24.43px;color:#6B6B6B;transform:translate(1028.57px,1023.00px) scaleX(0.9765);font-weight:700;">Detached</div>
<div class="t" style="font-size:25.29px;color:#6B6B6B;transform:translate(963.72px,1081.20px) scaleX(0.9426);font-weight:700;">Semi-Detached</div>
<div class="t" style="font-size:25.43px;color:#6B6B6B;transform:translate(948.58px,1140.20px) scaleX(0.9321);font-weight:700;">Row/Townhouse</div>
<div class="t" style="font-size:24.57px;color:#6B6B6B;transform:translate(845.92px,1199.80px) scaleX(0.9854);font-weight:700;">Apartment Condominium</div>
<div class="t" style="font-size:25.29px;color:#6B6B6B;transform:translate(974.73px,1258.00px) scaleX(0.9259);font-weight:700;">All Residential</div>
<div class="t" style="font-size:24.64px;color:#262626;transform:translate(4.40px,1351.90px) scaleX(0.8932);font-style:italic;-webkit-text-stroke:0.8px #262626;">* Greater Edmonton Area includes Beaumont, Bon Accord, Bruderheim, Calmar, Devon, Edmonton, Fort Saskatchewan, Gibbons, Leduc, Legal, Morinville, New Sarepta, Redwater, Rural Leduc County, Rural Parkland County, Rural Strathcona County,</div>
<div class="t" style="font-size:24.20px;color:#262626;transform:translate(3.84px,1383.60px) scaleX(0.9094);font-style:italic;-webkit-text-stroke:0.8px #262626;">Rural Sturgeon County, Sherwood Park, Spruce Grove, St. Albert, Stony Plain, Thorsby, Wabamun, Warburg.</div>
<div class="t" style="font-size:16.29px;color:#fff;transform:translate(1663.11px,1015.90px) scaleX(1.1654);font-weight:700;">44</div>
<div class="t" style="font-size:16.29px;color:#fff;transform:translate(1767.74px,1040.90px) scaleX(1.1384);font-weight:700;">53</div>
<div class="t" style="font-size:16.14px;color:#fff;transform:translate(1522.34px,1074.50px) scaleX(1.1146);font-weight:700;">33</div>
<div class="t" style="font-size:16.71px;color:#fff;transform:translate(1624.83px,1100.90px) scaleX(1.0177);font-weight:700;">41</div>
<div class="t" style="font-size:16.71px;color:#fff;transform:translate(1584.61px,1134.20px) scaleX(1.1788);font-weight:700;">38</div>
<div class="t" style="font-size:16.71px;color:#fff;transform:translate(1738.74px,1159.90px) scaleX(1.1269);font-weight:700;">50</div>
<div class="t" style="font-size:16.71px;color:#fff;transform:translate(1821.74px,1193.90px) scaleX(1.1098);font-weight:700;">57</div>
<div class="t" style="font-size:16.14px;color:#fff;transform:translate(1816.15px,1217.50px) scaleX(1.1430);font-weight:700;">57</div>
<div class="t" style="font-size:16.14px;color:#fff;transform:translate(1659.81px,1251.20px) scaleX(1.1594);font-weight:700;">44</div>
<div class="t" style="font-size:16.71px;color:#fff;transform:translate(1755.16px,1276.90px) scaleX(1.0869);font-weight:700;">52</div>
</body></html>
